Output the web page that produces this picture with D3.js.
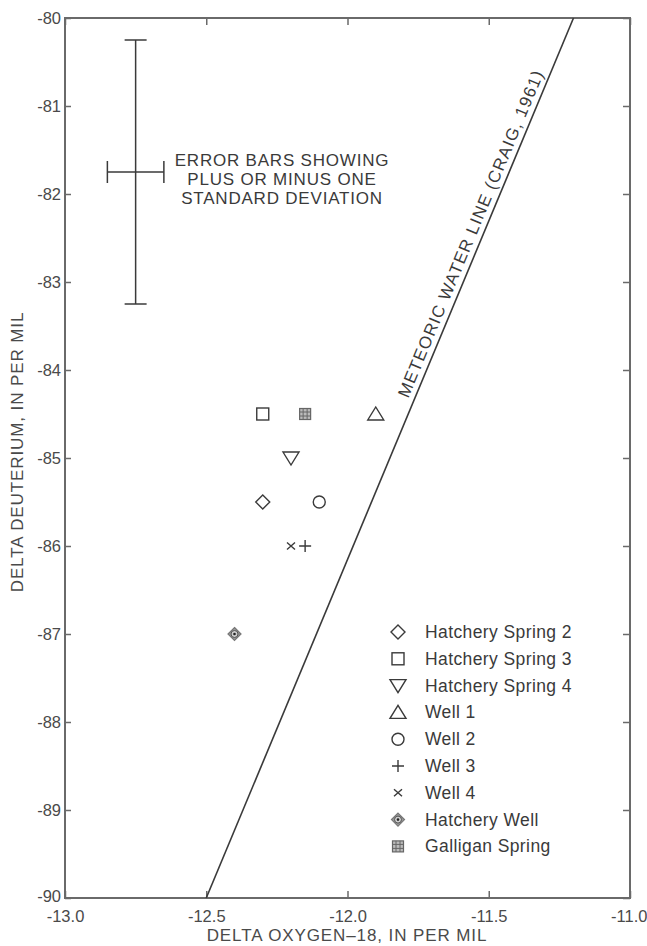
<!DOCTYPE html>
<html><head><meta charset="utf-8">
<script src="https://cdn.jsdelivr.net/npm/d3@7"></script>
<style>body{margin:0;background:#fff}svg{display:block}text{font-family:"Liberation Sans",Arial,Helvetica,sans-serif}</style>
</head><body><svg id="c" width="647" height="946"></svg>
<script>
// ---- data ----
const series = ["Hatchery Spring 2","Hatchery Spring 3","Hatchery Spring 4","Well 1","Well 2","Well 3","Well 4","Hatchery Well","Galligan Spring"];
const symbols = ["diamond","square","triDown","triUp","circle","plus","cross","hatchWell","galligan"];
const o18 = [-12.3,-12.3,-12.2,-11.9,-12.1,-12.15,-12.2,-12.4,-12.15];
const dD  = [-85.5,-84.5,-85.0,-84.5,-85.5,-86.0,-86.0,-87.0,-84.5];
const mwlO18 = [-12.5,-11.2];
const mwlD = [-90,-80];
const errCenter = [-12.75,-81.75];
const errO18 = [-12.85,-12.65];
const errD = [-80.25,-83.25];
const xTicks = [-13.0,-12.5,-12.0,-11.5,-11.0];
const yTicks = [-80,-81,-82,-83,-84,-85,-86,-87,-88,-89,-90];
const errText = ["ERROR BARS SHOWING","PLUS OR MINUS ONE","STANDARD DEVIATION"];
const mwlLabel = "METEORIC WATER LINE (CRAIG, 1961)";
const xTitle = "DELTA OXYGEN\u201318, IN PER MIL";
const yTitle = "DELTA DEUTERIUM, IN PER MIL";

// ---- layout ----
const svg = d3.select("#c");
const m = {l:65, r:17, t:18, b:48};
const W = 647, H = 946;
const x = d3.scaleLinear().domain([-13,-11]).range([m.l, W-m.r]);
const y = d3.scaleLinear().domain([-90,-80]).range([H-m.b, m.t]);
const ink = "#3a3a3a", frame = "#6a6a6a", lab = "#4a4a4a";

// frame
svg.append("rect").attr("x",x(-13)).attr("y",y(-80)).attr("width",x(-11)-x(-13)).attr("height",y(-90)-y(-80))
  .attr("fill","none").attr("stroke",frame).attr("stroke-width",2);

// axes
const fs = 16.5;
const ax = (g)=>{g.selectAll(".domain").remove(); g.selectAll("line").attr("stroke",frame).attr("stroke-width",1.5);
  g.selectAll("text").attr("fill",lab).style("font-size",fs+"px");};
svg.append("g").attr("transform",`translate(0,${y(-90)})`)
  .call(d3.axisBottom(x).tickValues(xTicks).tickSize(-7).tickPadding(8).tickFormat(d3.format(".1f")))
  .call(ax).call(g=>g.selectAll("text").attr("dy","0.95em").text(d=>d3.format(".1f")(d).replace("\u2212","-"))
    .filter(d=>d===-11).attr("text-anchor","end").attr("x",17));
svg.append("g").attr("transform",`translate(0,${y(-80)})`)
  .call(d3.axisTop(x).tickValues(xTicks).tickSize(-7).tickFormat("")).call(ax);
svg.append("g").attr("transform",`translate(${x(-13)},0)`)
  .call(d3.axisLeft(y).tickValues(yTicks).tickSize(-6).tickPadding(4).tickFormat(d=>String(d)))
  .call(ax).call(g=>g.selectAll("text").filter(d=>d===-90).attr("dy","0.2em"));
svg.append("g").attr("transform",`translate(${x(-11)},0)`)
  .call(d3.axisRight(y).tickValues(yTicks).tickSize(-7).tickFormat("")).call(ax);

// axis titles
svg.append("text").attr("x",347).attr("y",941).attr("text-anchor","middle")
  .attr("fill",lab).style("font-size","17px").style("letter-spacing","0.9px").text(xTitle);
svg.append("text").attr("transform",`translate(23,452) rotate(-90)`).attr("text-anchor","middle")
  .attr("fill",lab).style("font-size","17px").style("letter-spacing","0.9px").text(yTitle);

// meteoric water line
svg.append("line").attr("x1",x(mwlO18[0])).attr("y1",y(mwlD[0])).attr("x2",x(mwlO18[1])).attr("y2",y(mwlD[1]))
  .attr("stroke",ink).attr("stroke-width",1.6);
const ang = Math.atan2(y(mwlD[1])-y(mwlD[0]), x(mwlO18[1])-x(mwlO18[0]))*180/Math.PI;
const tL = 0.75;
const lx = x(mwlO18[0]+(mwlO18[1]-mwlO18[0])*tL), ly = y(mwlD[0]+(mwlD[1]-mwlD[0])*tL);
svg.append("text").attr("transform",`translate(${lx},${ly}) rotate(${ang})`).attr("text-anchor","middle").attr("dy",-6)
  .attr("fill",ink).style("font-size","17px").style("letter-spacing","1.2px").text(mwlLabel);

// error bars
const eb = svg.append("g").attr("stroke",ink).attr("stroke-width",1.5);
eb.append("line").attr("x1",x(errCenter[0])).attr("x2",x(errCenter[0])).attr("y1",y(errD[0])).attr("y2",y(errD[1]));
eb.append("line").attr("x1",x(errCenter[0])-11).attr("x2",x(errCenter[0])+11).attr("y1",y(errD[0])).attr("y2",y(errD[0]));
eb.append("line").attr("x1",x(errCenter[0])-11).attr("x2",x(errCenter[0])+11).attr("y1",y(errD[1])).attr("y2",y(errD[1]));
eb.append("line").attr("y1",y(errCenter[1])).attr("y2",y(errCenter[1])).attr("x1",x(errO18[0])).attr("x2",x(errO18[1]));
eb.append("line").attr("y1",y(errCenter[1])-11).attr("y2",y(errCenter[1])+11).attr("x1",x(errO18[0])).attr("x2",x(errO18[0]));
eb.append("line").attr("y1",y(errCenter[1])-11).attr("y2",y(errCenter[1])+11).attr("x1",x(errO18[1])).attr("x2",x(errO18[1]));
svg.append("g").selectAll("text").data(errText).join("text")
  .attr("x",282).attr("y",(d,i)=>166+i*19).attr("text-anchor","middle").attr("fill",ink)
  .style("font-size","17px").style("letter-spacing","0.8px").text(d=>d);

// symbols
function drawSym(g, type){
  const st = {fill:"none", stroke:ink, "stroke-width":1.4};
  const a = (el)=>{for(const k in st) el.attr(k,st[k]); return el;};
  switch(type){
    case "diamond": a(g.append("path").attr("d","M0,-7L7,0L0,7L-7,0Z")); break;
    case "square": a(g.append("rect").attr("x",-6).attr("y",-6).attr("width",12).attr("height",12)); break;
    case "triDown": a(g.append("path").attr("d","M-8,-6L8,-6L0,7Z")); break;
    case "triUp": a(g.append("path").attr("d","M-8,6L8,6L0,-7Z")); break;
    case "circle": a(g.append("circle").attr("r",6)); break;
    case "plus": a(g.append("path").attr("d","M-6,0H6M0,-6V6")); break;
    case "cross": a(g.append("path").attr("d","M-4,-3.5L4,3.5M-4,3.5L4,-3.5")); break;
    case "hatchWell":
      g.append("path").attr("d","M0,-6.5L6.5,0L0,6.5L-6.5,0Z").attr("fill","#9a9a9a").attr("stroke","#777").attr("stroke-width",1.2);
      g.append("circle").attr("r",3.5).attr("fill","#ccc").attr("stroke","#555").attr("stroke-width",1);
      g.append("circle").attr("r",1.3).attr("fill","#222"); break;
    case "galligan":
      g.append("rect").attr("x",-5.5).attr("y",-5.5).attr("width",11).attr("height",11).attr("fill","#bbb").attr("stroke","#666").attr("stroke-width",1.2);
      g.append("path").attr("d","M-2,-5.5V5.5M2,-5.5V5.5M-5.5,-2H5.5M-5.5,2H5.5").attr("stroke","#666").attr("stroke-width",1); break;
  }
}
series.forEach((s,i)=>{
  const g = svg.append("g").attr("transform",`translate(${x(o18[i])},${y(dD[i])})`);
  drawSym(g, symbols[i]);
});

// legend
const leg = svg.append("g");
series.forEach((s,i)=>{
  const yy = 632 + i*26.8;
  const g = leg.append("g").attr("transform",`translate(398,${yy})`);
  drawSym(g, symbols[i]);
  leg.append("text").attr("x",425).attr("y",yy+6).attr("fill",ink).style("font-size","17.5px").style("letter-spacing","0.4px").text(s);
});
</script></body></html>
